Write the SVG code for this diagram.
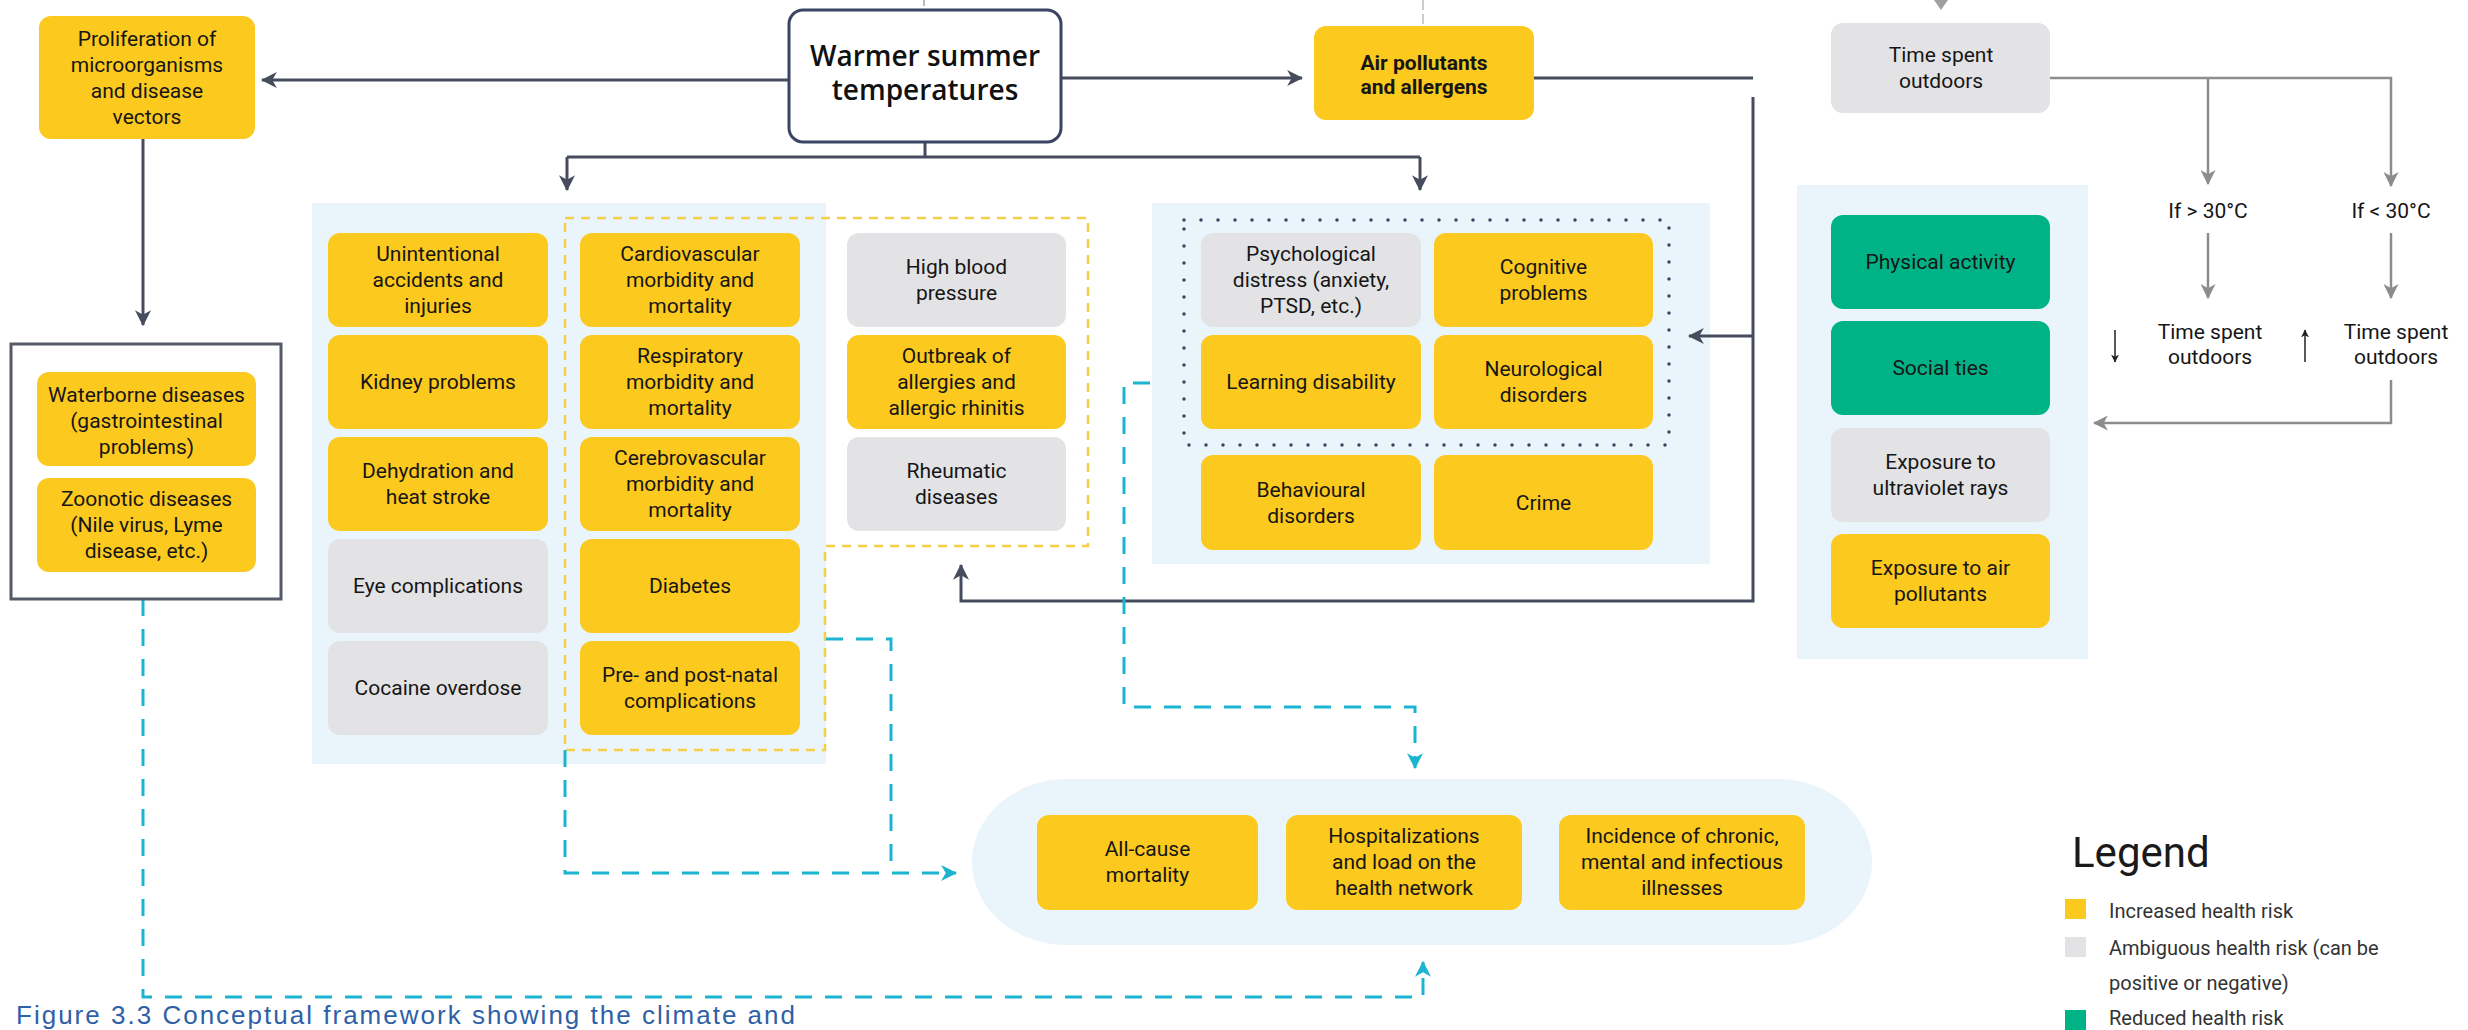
<svg xmlns="http://www.w3.org/2000/svg" width="2468" height="1030" viewBox="0 0 2468 1030">
<style>
.y{fill:#fcc91e}
.g{fill:#e3e3e5}
.gr{fill:#00b386}
.panel{fill:#e9f5fb}
.t{font-family:Roboto,"Liberation Sans",sans-serif;font-size:21px;fill:#161616;text-anchor:middle}
.conn{fill:none;stroke:#464c5e;stroke-width:3}
.connG{fill:none;stroke:#8c8c8c;stroke-width:2.5}
.cy{fill:none;stroke:#1cb5d1;stroke-width:3;stroke-dasharray:17 13}
.leg{font-family:Roboto,"Liberation Sans",sans-serif;font-size:20px;fill:#333}
</style>
<defs>
<marker id="aD" viewBox="0 0 14 14" markerWidth="16" markerHeight="16" refX="13" refY="7" orient="auto" markerUnits="userSpaceOnUse"><path d="M0,0 L14,7 L0,14 L4,7 z" fill="#464c5e"/></marker>
<marker id="aG" viewBox="0 0 14 14" markerWidth="15" markerHeight="15" refX="13" refY="7" orient="auto" markerUnits="userSpaceOnUse"><path d="M0,0 L14,7 L0,14 L4,7 z" fill="#8c8c8c"/></marker>
<marker id="aC" viewBox="0 0 14 14" markerWidth="16" markerHeight="16" refX="13" refY="7" orient="auto" markerUnits="userSpaceOnUse"><path d="M0,0 L14,7 L0,14 L4,7 z" fill="#1cb5d1"/></marker>
<marker id="aK" viewBox="0 0 14 14" markerWidth="8" markerHeight="8" refX="13" refY="7" orient="auto" markerUnits="userSpaceOnUse"><path d="M0,0 L14,7 L0,14 L4,7 z" fill="#222"/></marker>
</defs>
<rect width="2468" height="1030" fill="#ffffff"/>

<!-- panels -->
<g id="panel-left"><rect class="panel" x="312" y="203" width="514" height="561"/></g>
<g id="panel-mental"><rect class="panel" x="1152" y="203" width="558" height="361"/>
<rect x="1184" y="220" width="485" height="225" fill="none" stroke="#3b4563" stroke-width="3.5" stroke-dasharray="0 17" stroke-linecap="round"/></g>
<g id="panel-right"><rect class="panel" x="1797" y="185" width="291" height="474"/></g>
<g id="panel-outcomes"><rect class="panel" x="972" y="779" width="900" height="166" rx="95" ry="83"/></g>
<g id="group-yellow-dashed"><path d="M565,218 H1088 V546 H825 V750 H565 Z" fill="none" stroke="#f5cf4a" stroke-width="2.5" stroke-dasharray="9 7"/></g>

<!-- connectors -->
<g id="connectors">
<path class="conn" d="M789,80 H262" marker-end="url(#aD)"/>
<path class="conn" d="M1061,78 H1302" marker-end="url(#aD)"/>
<path class="conn" d="M925,142 V157"/>
<path class="conn" d="M567,157 H1420"/>
<path class="conn" d="M567,157 V190" marker-end="url(#aD)"/>
<path class="conn" d="M1420,157 V190" marker-end="url(#aD)"/>
<path class="conn" d="M143,139 V325" marker-end="url(#aD)"/>
<path class="conn" d="M1534,78 H1753"/>
<path class="conn" d="M1753,97 V601 H961 V565" marker-end="url(#aD)"/>
<path class="conn" d="M1753,336 H1689" marker-end="url(#aD)"/>
<path class="connG" d="M2050,78 H2391 V186" marker-end="url(#aG)"/>
<path class="connG" d="M2208,78 V184" marker-end="url(#aG)"/>
<path class="connG" d="M2208,233 V298" marker-end="url(#aG)"/>
<path class="connG" d="M2391,233 V298" marker-end="url(#aG)"/>
<path class="connG" d="M2391,380 V423 H2094" marker-end="url(#aG)"/>
<path d="M2115,330 V362" fill="none" stroke="#222" stroke-width="1.5" marker-end="url(#aK)"/>
<path d="M2305,362 V330" fill="none" stroke="#222" stroke-width="1.5" marker-end="url(#aK)"/>
<path class="cy" d="M565,750 V873 H956" marker-end="url(#aC)"/>
<path class="cy" d="M826,639 H891 V862"/>
<path class="cy" d="M1150,383 H1124 V707 H1415 V768" marker-end="url(#aC)"/>
<path class="cy" d="M143,599 V997 H1423 V962" marker-end="url(#aC)"/>
<path d="M924,0 V6" stroke="#bbbbbb" stroke-width="2"/>
<path d="M1423,0 V26" stroke="#cccccc" stroke-width="2" stroke-dasharray="10 4"/>
<path d="M1934,0 L1948,0 L1941,10 Z" fill="#a0a0a0"/>
</g>

<!-- top nodes -->
<g id="warmer"><rect x="789" y="10" width="272" height="132" rx="14" fill="#fff" stroke="#3b4563" stroke-width="3"/>
<text x="925" y="66" font-family="'Open Sans',sans-serif" font-weight="600" font-size="28" fill="#111" text-anchor="middle">Warmer summer</text>
<text x="925" y="100" font-family="'Open Sans',sans-serif" font-weight="600" font-size="28" fill="#111" text-anchor="middle">temperatures</text></g>
<g id="proliferation"><rect class="y" x="39" y="16" width="216" height="123" rx="12"/>
<text class="t" x="147" y="46">Proliferation of</text><text class="t" x="147" y="72">microorganisms</text><text class="t" x="147" y="98">and disease</text><text class="t" x="147" y="124">vectors</text></g>
<g id="air"><rect class="y" x="1314" y="26" width="220" height="94" rx="12"/>
<text class="t" x="1424" y="70" font-weight="700" font-size="20">Air pollutants</text><text class="t" x="1424" y="94" font-weight="700" font-size="20">and allergens</text></g>
<g id="time-spent"><rect class="g" x="1831" y="23" width="219" height="90" rx="12"/>
<text class="t" x="1941" y="62">Time spent</text><text class="t" x="1941" y="88">outdoors</text></g>

<!-- waterborne group -->
<g id="infectious"><rect x="11" y="344" width="270" height="255" fill="#fff" stroke="#555a66" stroke-width="3"/></g>
<g id="waterborne"><rect class="y" x="37" y="372" width="219" height="94" rx="12"/>
<text class="t" x="146.5" y="402">Waterborne diseases</text><text class="t" x="146.5" y="428">(gastrointestinal</text><text class="t" x="146.5" y="454">problems)</text></g>
<g id="zoonotic"><rect class="y" x="37" y="478" width="219" height="94" rx="12"/>
<text class="t" x="146.5" y="506">Zoonotic diseases</text><text class="t" x="146.5" y="532">(Nile virus, Lyme</text><text class="t" x="146.5" y="558">disease, etc.)</text></g>

<!-- left panel column 1 -->
<g id="unintentional"><rect class="y" x="328" y="233" width="220" height="94" rx="12"/>
<text class="t" x="438" y="261">Unintentional</text><text class="t" x="438" y="287">accidents and</text><text class="t" x="438" y="313">injuries</text></g>
<g id="kidney"><rect class="y" x="328" y="335" width="220" height="94" rx="12"/><text class="t" x="438" y="389">Kidney problems</text></g>
<g id="dehydration"><rect class="y" x="328" y="437" width="220" height="94" rx="12"/>
<text class="t" x="438" y="478">Dehydration and</text><text class="t" x="438" y="504">heat stroke</text></g>
<g id="eye"><rect class="g" x="328" y="539" width="220" height="94" rx="12"/><text class="t" x="438" y="593">Eye complications</text></g>
<g id="cocaine"><rect class="g" x="328" y="641" width="220" height="94" rx="12"/><text class="t" x="438" y="695">Cocaine overdose</text></g>

<!-- column 2 -->
<g id="cardio"><rect class="y" x="580" y="233" width="220" height="94" rx="12"/>
<text class="t" x="690" y="261">Cardiovascular</text><text class="t" x="690" y="287">morbidity and</text><text class="t" x="690" y="313">mortality</text></g>
<g id="respiratory"><rect class="y" x="580" y="335" width="220" height="94" rx="12"/>
<text class="t" x="690" y="363">Respiratory</text><text class="t" x="690" y="389">morbidity and</text><text class="t" x="690" y="415">mortality</text></g>
<g id="cerebro"><rect class="y" x="580" y="437" width="220" height="94" rx="12"/>
<text class="t" x="690" y="465">Cerebrovascular</text><text class="t" x="690" y="491">morbidity and</text><text class="t" x="690" y="517">mortality</text></g>
<g id="diabetes"><rect class="y" x="580" y="539" width="220" height="94" rx="12"/><text class="t" x="690" y="593">Diabetes</text></g>
<g id="natal"><rect class="y" x="580" y="641" width="220" height="94" rx="12"/>
<text class="t" x="690" y="682">Pre- and post-natal</text><text class="t" x="690" y="708">complications</text></g>

<!-- column 3 -->
<g id="blood-pressure"><rect class="g" x="847" y="233" width="219" height="94" rx="12"/>
<text class="t" x="956.5" y="274">High blood</text><text class="t" x="956.5" y="300">pressure</text></g>
<g id="allergies"><rect class="y" x="847" y="335" width="219" height="94" rx="12"/>
<text class="t" x="956.5" y="363">Outbreak of</text><text class="t" x="956.5" y="389">allergies and</text><text class="t" x="956.5" y="415">allergic rhinitis</text></g>
<g id="rheumatic"><rect class="g" x="847" y="437" width="219" height="94" rx="12"/>
<text class="t" x="956.5" y="478">Rheumatic</text><text class="t" x="956.5" y="504">diseases</text></g>

<!-- mental health -->
<g id="psych"><rect class="g" x="1201" y="233" width="220" height="94" rx="12"/>
<text class="t" x="1311" y="261">Psychological</text><text class="t" x="1311" y="287">distress (anxiety,</text><text class="t" x="1311" y="313">PTSD, etc.)</text></g>
<g id="cognitive"><rect class="y" x="1434" y="233" width="219" height="94" rx="12"/>
<text class="t" x="1543.5" y="274">Cognitive</text><text class="t" x="1543.5" y="300">problems</text></g>
<g id="learning"><rect class="y" x="1201" y="335" width="220" height="94" rx="12"/><text class="t" x="1311" y="389">Learning disability</text></g>
<g id="neuro"><rect class="y" x="1434" y="335" width="219" height="94" rx="12"/>
<text class="t" x="1543.5" y="376">Neurological</text><text class="t" x="1543.5" y="402">disorders</text></g>
<g id="behavioural"><rect class="y" x="1201" y="455" width="220" height="95" rx="12"/>
<text class="t" x="1311" y="497">Behavioural</text><text class="t" x="1311" y="523">disorders</text></g>
<g id="crime"><rect class="y" x="1434" y="455" width="219" height="95" rx="12"/><text class="t" x="1543.5" y="510">Crime</text></g>

<!-- right panel -->
<g id="physical"><rect class="gr" x="1831" y="215" width="219" height="94" rx="12"/><text class="t" x="1940.5" y="269">Physical activity</text></g>
<g id="social"><rect class="gr" x="1831" y="321" width="219" height="94" rx="12"/><text class="t" x="1940.5" y="375">Social ties</text></g>
<g id="uv"><rect class="g" x="1831" y="428" width="219" height="94" rx="12"/>
<text class="t" x="1940.5" y="469">Exposure to</text><text class="t" x="1940.5" y="495">ultraviolet rays</text></g>
<g id="exposure-air"><rect class="y" x="1831" y="534" width="219" height="94" rx="12"/>
<text class="t" x="1940.5" y="575">Exposure to air</text><text class="t" x="1940.5" y="601">pollutants</text></g>

<!-- conditions -->
<g id="if-hot"><text class="t" x="2208" y="218">If &gt; 30°C</text></g>
<g id="if-cool"><text class="t" x="2391" y="218">If &lt; 30°C</text></g>
<g id="less-time"><text class="t" x="2210" y="339">Time spent</text><text class="t" x="2210" y="364">outdoors</text></g>
<g id="more-time"><text class="t" x="2396" y="339">Time spent</text><text class="t" x="2396" y="364">outdoors</text></g>

<!-- outcomes -->
<g id="all-cause"><rect class="y" x="1037" y="815" width="221" height="95" rx="12"/>
<text class="t" x="1147.5" y="856">All-cause</text><text class="t" x="1147.5" y="882">mortality</text></g>
<g id="hospital"><rect class="y" x="1286" y="815" width="236" height="95" rx="12"/>
<text class="t" x="1404" y="843">Hospitalizations</text><text class="t" x="1404" y="869">and load on the</text><text class="t" x="1404" y="895">health network</text></g>
<g id="incidence"><rect class="y" x="1559" y="815" width="246" height="95" rx="12"/>
<text class="t" x="1682" y="843">Incidence of chronic,</text><text class="t" x="1682" y="869">mental and infectious</text><text class="t" x="1682" y="895">illnesses</text></g>

<!-- legend -->
<g id="legend">
<text x="2072" y="867" font-family="Roboto,'Liberation Sans',sans-serif" font-size="42" fill="#1a1a1a">Legend</text>
<rect x="2065" y="899" width="21" height="20" fill="#fcc91e"/>
<rect x="2065" y="937" width="21" height="20" fill="#e3e3e5"/>
<rect x="2065" y="1010" width="21" height="20" fill="#00b386"/>
<text class="leg" x="2109" y="918">Increased health risk</text>
<text class="leg" x="2109" y="955">Ambiguous health risk (can be</text>
<text class="leg" x="2109" y="990">positive or negative)</text>
<text class="leg" x="2109" y="1025">Reduced health risk</text>
</g>
<g id="caption"><text x="16" y="1024" font-family="'Liberation Sans',sans-serif" font-size="26" fill="#2f5fa7" textLength="779" lengthAdjust="spacing">Figure 3.3 Conceptual framework showing the climate and</text></g>
</svg>
